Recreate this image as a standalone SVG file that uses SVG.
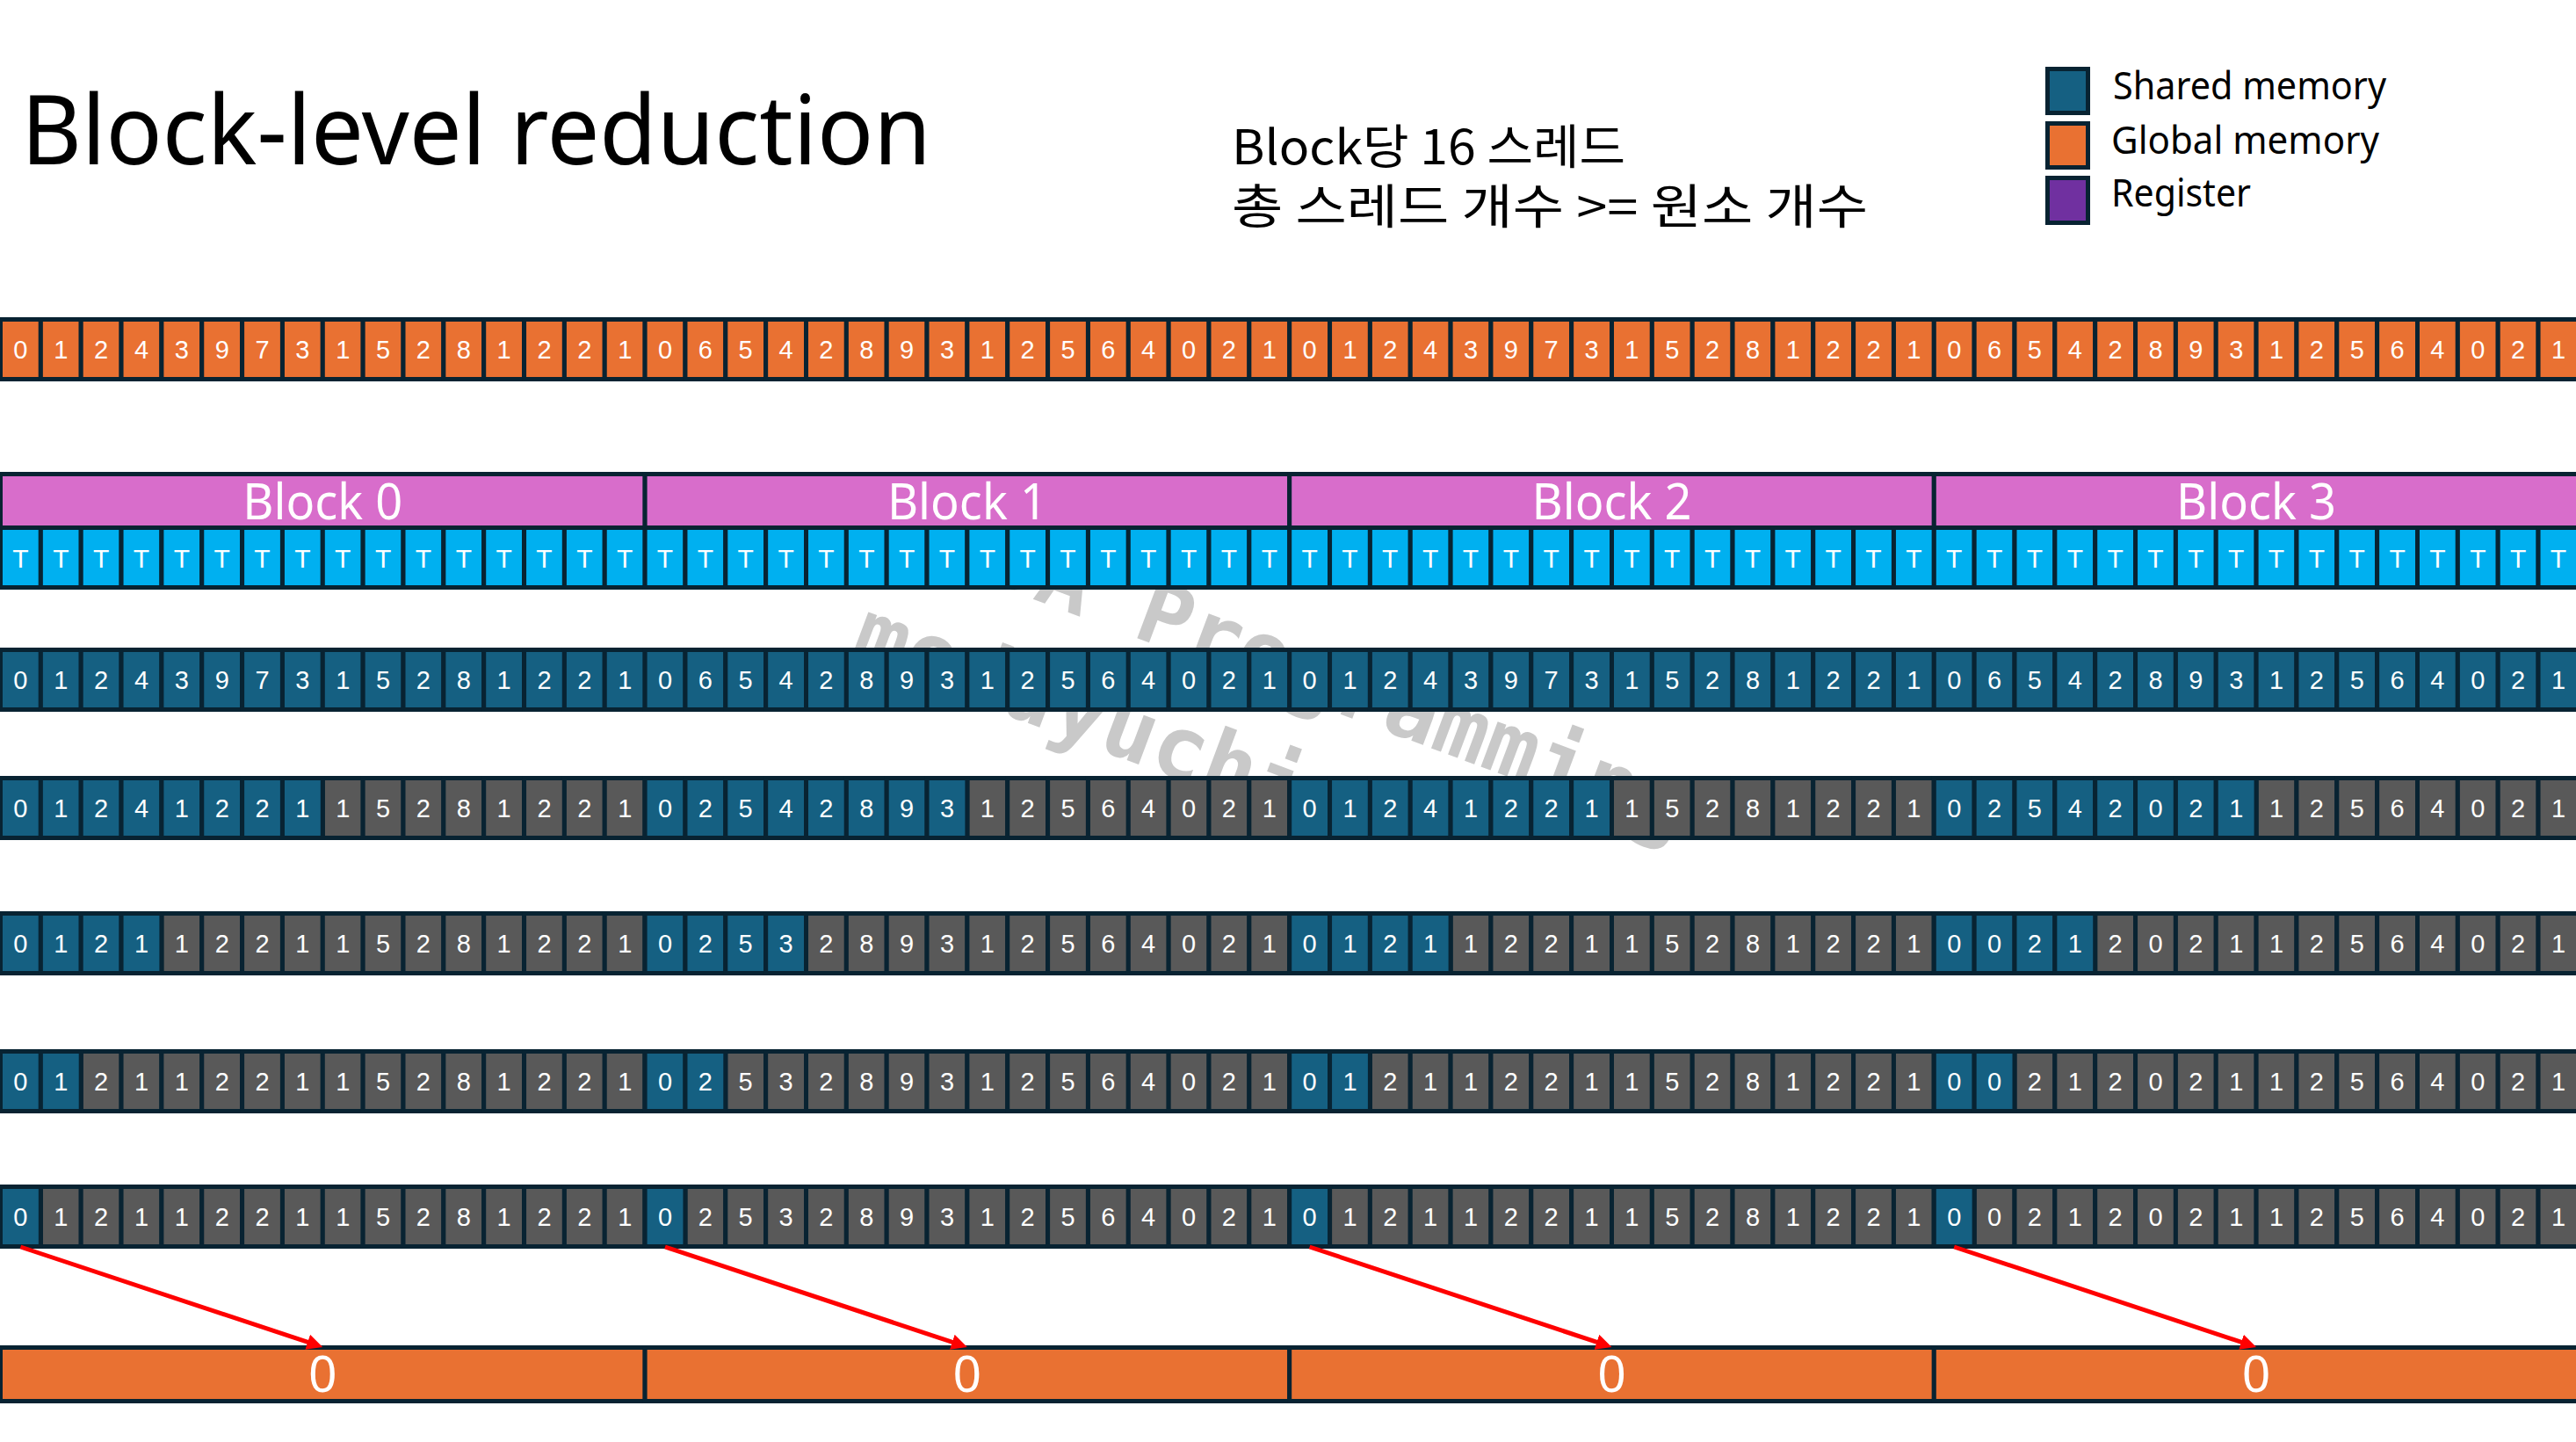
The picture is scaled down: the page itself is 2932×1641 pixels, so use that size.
<svg xmlns="http://www.w3.org/2000/svg" xmlns:xlink="http://www.w3.org/1999/xlink" width="2932" height="1641" viewBox="0 0 2932 1641">
<style>
.o{fill:#E97132}
.b{fill:#156082}
.g{fill:#595959}
.tb{fill:#00B0F0}
.pk{fill:#D86DCB}
.pu{fill:#7030A0}
.bd{stroke:#082332;stroke-width:5}
.num text{font-family:'Liberation Sans',Arial,sans-serif;font-size:29px;fill:#fff;text-anchor:middle}
.th text{font-family:'Liberation Sans Narrow','Liberation Sans',Arial,sans-serif;font-size:30px;fill:#fff;text-anchor:middle}
.lbl{font-family:'Noto Sans','Open Sans',sans-serif;fill:#fff;text-anchor:middle;font-size:57px}
.blk{font-family:'Noto Sans','Open Sans',sans-serif;fill:#000}
.kr{font-family:'Noto Sans CJK KR','Noto Sans',sans-serif;font-size:54px;fill:#000}
.arrow{stroke:#FF0000;stroke-width:5;fill:none;marker-end:url(#ah)}
.wm{font-family:'DejaVu Sans Mono','Liberation Mono',monospace;font-weight:700;font-size:100px;fill:#c9c9c9}
</style>
<defs>
<rect id="c" width="45.85" height="68" stroke="#082332" stroke-width="5"/>
<g id="c2"><use href="#c"/><use href="#c" x="45.85"/></g>
<g id="c4"><use href="#c2"/><use href="#c2" x="91.7"/></g>
<g id="c8"><use href="#c4"/><use href="#c4" x="183.4"/></g>
<g id="c16"><use href="#c8"/><use href="#c8" x="366.8"/></g>
<marker id="ah" markerUnits="userSpaceOnUse" markerWidth="18" markerHeight="18" refX="6" refY="9" orient="auto"><path d="M0,0L18,9L0,18z" fill="#FF0000"/></marker>
</defs>
<rect width="2932" height="1641" fill="#fff"/>

<g id="watermark" class="wm" transform="translate(1005,618) rotate(20.5)"><text>CUDA Programming</text><text x="8" y="134">moduyuchi</text></g>

<g id="title"><text class="blk" x="24" y="187" font-size="110" textLength="1036" lengthAdjust="spacingAndGlyphs">Block-level reduction</text></g>

<g id="note"><text class="kr"><tspan x="1402" y="187" textLength="448" lengthAdjust="spacingAndGlyphs">Block당 16 스레드</tspan><tspan x="1402" y="255" textLength="724" lengthAdjust="spacingAndGlyphs">총 스레드 개수 &gt;= 원소 개수</tspan></text></g>

<g id="legend">
<g id="legend-shared"><rect class="b bd" x="2330.5" y="78.5" width="46" height="50"/><text class="blk" x="2405" y="113" font-size="43" textLength="311" lengthAdjust="spacingAndGlyphs">Shared memory</text></g>
<g id="legend-global"><rect class="o bd" x="2330.5" y="140.5" width="46" height="50"/><text class="blk" x="2403" y="175" font-size="43" textLength="305" lengthAdjust="spacingAndGlyphs">Global memory</text></g>
<g id="legend-register"><rect class="pu bd" x="2330.5" y="202.5" width="46" height="51"/><text class="blk" x="2403" y="235" font-size="43" textLength="159" lengthAdjust="spacingAndGlyphs">Register</text></g>
</g>

<g id="global-input" transform="translate(0.5,363.5)">
<use href="#c16" class="o"/><use href="#c16" class="o" x="733.6"/><use href="#c16" class="o" x="1467.2"/><use href="#c16" class="o" x="2200.8"/>
<g class="num" transform="translate(0,44.4)">
<g><text x="22.9">0</text><text x="68.8">1</text><text x="114.6">2</text><text x="160.5">4</text><text x="206.3">3</text><text x="252.2">9</text><text x="298">7</text><text x="343.9">3</text><text x="389.7">1</text><text x="435.6">5</text><text x="481.4">2</text><text x="527.3">8</text><text x="573.1">1</text><text x="619">2</text><text x="664.8">2</text><text x="710.7">1</text></g>
<g transform="translate(733.6)"><text x="22.9">0</text><text x="68.8">6</text><text x="114.6">5</text><text x="160.5">4</text><text x="206.3">2</text><text x="252.2">8</text><text x="298">9</text><text x="343.9">3</text><text x="389.7">1</text><text x="435.6">2</text><text x="481.4">5</text><text x="527.3">6</text><text x="573.1">4</text><text x="619">0</text><text x="664.8">2</text><text x="710.7">1</text></g>
<g transform="translate(1467.2)"><text x="22.9">0</text><text x="68.8">1</text><text x="114.6">2</text><text x="160.5">4</text><text x="206.3">3</text><text x="252.2">9</text><text x="298">7</text><text x="343.9">3</text><text x="389.7">1</text><text x="435.6">5</text><text x="481.4">2</text><text x="527.3">8</text><text x="573.1">1</text><text x="619">2</text><text x="664.8">2</text><text x="710.7">1</text></g>
<g transform="translate(2200.8)"><text x="22.9">0</text><text x="68.8">6</text><text x="114.6">5</text><text x="160.5">4</text><text x="206.3">2</text><text x="252.2">8</text><text x="298">9</text><text x="343.9">3</text><text x="389.7">1</text><text x="435.6">2</text><text x="481.4">5</text><text x="527.3">6</text><text x="573.1">4</text><text x="619">0</text><text x="664.8">2</text><text x="710.7">1</text></g>
</g>
</g>

<g id="block-headers" transform="translate(0.5,539.5)">
<g id="block0"><rect class="pk bd" width="733.6" height="61"/><text class="lbl" x="366.8" y="51.5" textLength="182" lengthAdjust="spacingAndGlyphs">Block 0</text></g>
<g id="block1" transform="translate(733.6)"><rect class="pk bd" width="733.6" height="61"/><text class="lbl" x="366.8" y="51.5" textLength="182" lengthAdjust="spacingAndGlyphs">Block 1</text></g>
<g id="block2" transform="translate(1467.2)"><rect class="pk bd" width="733.6" height="61"/><text class="lbl" x="366.8" y="51.5" textLength="182" lengthAdjust="spacingAndGlyphs">Block 2</text></g>
<g id="block3" transform="translate(2200.8)"><rect class="pk bd" width="733.6" height="61"/><text class="lbl" x="366.8" y="51.5" textLength="182" lengthAdjust="spacingAndGlyphs">Block 3</text></g>
</g>

<g id="threads" transform="translate(0.5,600.5)">
<use href="#c16" class="tb"/><use href="#c16" class="tb" x="733.6"/><use href="#c16" class="tb" x="1467.2"/><use href="#c16" class="tb" x="2200.8"/>
<g class="th" transform="translate(0,45)">
<g><text x="22.9">T</text><text x="68.8">T</text><text x="114.6">T</text><text x="160.5">T</text><text x="206.3">T</text><text x="252.2">T</text><text x="298">T</text><text x="343.9">T</text><text x="389.7">T</text><text x="435.6">T</text><text x="481.4">T</text><text x="527.3">T</text><text x="573.1">T</text><text x="619">T</text><text x="664.8">T</text><text x="710.7">T</text></g>
<g transform="translate(733.6)"><text x="22.9">T</text><text x="68.8">T</text><text x="114.6">T</text><text x="160.5">T</text><text x="206.3">T</text><text x="252.2">T</text><text x="298">T</text><text x="343.9">T</text><text x="389.7">T</text><text x="435.6">T</text><text x="481.4">T</text><text x="527.3">T</text><text x="573.1">T</text><text x="619">T</text><text x="664.8">T</text><text x="710.7">T</text></g>
<g transform="translate(1467.2)"><text x="22.9">T</text><text x="68.8">T</text><text x="114.6">T</text><text x="160.5">T</text><text x="206.3">T</text><text x="252.2">T</text><text x="298">T</text><text x="343.9">T</text><text x="389.7">T</text><text x="435.6">T</text><text x="481.4">T</text><text x="527.3">T</text><text x="573.1">T</text><text x="619">T</text><text x="664.8">T</text><text x="710.7">T</text></g>
<g transform="translate(2200.8)"><text x="22.9">T</text><text x="68.8">T</text><text x="114.6">T</text><text x="160.5">T</text><text x="206.3">T</text><text x="252.2">T</text><text x="298">T</text><text x="343.9">T</text><text x="389.7">T</text><text x="435.6">T</text><text x="481.4">T</text><text x="527.3">T</text><text x="573.1">T</text><text x="619">T</text><text x="664.8">T</text><text x="710.7">T</text></g>
</g>
</g>

<g id="smem-load" transform="translate(0.5,739.5)">
<use href="#c16" class="b"/><use href="#c16" class="b" x="733.6"/><use href="#c16" class="b" x="1467.2"/><use href="#c16" class="b" x="2200.8"/>
<g class="num" transform="translate(0,44.4)">
<g><text x="22.9">0</text><text x="68.8">1</text><text x="114.6">2</text><text x="160.5">4</text><text x="206.3">3</text><text x="252.2">9</text><text x="298">7</text><text x="343.9">3</text><text x="389.7">1</text><text x="435.6">5</text><text x="481.4">2</text><text x="527.3">8</text><text x="573.1">1</text><text x="619">2</text><text x="664.8">2</text><text x="710.7">1</text></g>
<g transform="translate(733.6)"><text x="22.9">0</text><text x="68.8">6</text><text x="114.6">5</text><text x="160.5">4</text><text x="206.3">2</text><text x="252.2">8</text><text x="298">9</text><text x="343.9">3</text><text x="389.7">1</text><text x="435.6">2</text><text x="481.4">5</text><text x="527.3">6</text><text x="573.1">4</text><text x="619">0</text><text x="664.8">2</text><text x="710.7">1</text></g>
<g transform="translate(1467.2)"><text x="22.9">0</text><text x="68.8">1</text><text x="114.6">2</text><text x="160.5">4</text><text x="206.3">3</text><text x="252.2">9</text><text x="298">7</text><text x="343.9">3</text><text x="389.7">1</text><text x="435.6">5</text><text x="481.4">2</text><text x="527.3">8</text><text x="573.1">1</text><text x="619">2</text><text x="664.8">2</text><text x="710.7">1</text></g>
<g transform="translate(2200.8)"><text x="22.9">0</text><text x="68.8">6</text><text x="114.6">5</text><text x="160.5">4</text><text x="206.3">2</text><text x="252.2">8</text><text x="298">9</text><text x="343.9">3</text><text x="389.7">1</text><text x="435.6">2</text><text x="481.4">5</text><text x="527.3">6</text><text x="573.1">4</text><text x="619">0</text><text x="664.8">2</text><text x="710.7">1</text></g>
</g>
</g>

<g id="smem-stride8" transform="translate(0.5,885.5)">
<use href="#c16" class="g"/><use href="#c8" class="b"/><use href="#c16" class="g" x="733.6"/><use href="#c8" class="b" x="733.6"/><use href="#c16" class="g" x="1467.2"/><use href="#c8" class="b" x="1467.2"/><use href="#c16" class="g" x="2200.8"/><use href="#c8" class="b" x="2200.8"/>
<g class="num" transform="translate(0,44.4)">
<g><text x="22.9">0</text><text x="68.8">1</text><text x="114.6">2</text><text x="160.5">4</text><text x="206.3">1</text><text x="252.2">2</text><text x="298">2</text><text x="343.9">1</text><text x="389.7">1</text><text x="435.6">5</text><text x="481.4">2</text><text x="527.3">8</text><text x="573.1">1</text><text x="619">2</text><text x="664.8">2</text><text x="710.7">1</text></g>
<g transform="translate(733.6)"><text x="22.9">0</text><text x="68.8">2</text><text x="114.6">5</text><text x="160.5">4</text><text x="206.3">2</text><text x="252.2">8</text><text x="298">9</text><text x="343.9">3</text><text x="389.7">1</text><text x="435.6">2</text><text x="481.4">5</text><text x="527.3">6</text><text x="573.1">4</text><text x="619">0</text><text x="664.8">2</text><text x="710.7">1</text></g>
<g transform="translate(1467.2)"><text x="22.9">0</text><text x="68.8">1</text><text x="114.6">2</text><text x="160.5">4</text><text x="206.3">1</text><text x="252.2">2</text><text x="298">2</text><text x="343.9">1</text><text x="389.7">1</text><text x="435.6">5</text><text x="481.4">2</text><text x="527.3">8</text><text x="573.1">1</text><text x="619">2</text><text x="664.8">2</text><text x="710.7">1</text></g>
<g transform="translate(2200.8)"><text x="22.9">0</text><text x="68.8">2</text><text x="114.6">5</text><text x="160.5">4</text><text x="206.3">2</text><text x="252.2">0</text><text x="298">2</text><text x="343.9">1</text><text x="389.7">1</text><text x="435.6">2</text><text x="481.4">5</text><text x="527.3">6</text><text x="573.1">4</text><text x="619">0</text><text x="664.8">2</text><text x="710.7">1</text></g>
</g>
</g>

<g id="smem-stride4" transform="translate(0.5,1039.5)">
<use href="#c16" class="g"/><use href="#c4" class="b"/><use href="#c16" class="g" x="733.6"/><use href="#c4" class="b" x="733.6"/><use href="#c16" class="g" x="1467.2"/><use href="#c4" class="b" x="1467.2"/><use href="#c16" class="g" x="2200.8"/><use href="#c4" class="b" x="2200.8"/>
<g class="num" transform="translate(0,44.4)">
<g><text x="22.9">0</text><text x="68.8">1</text><text x="114.6">2</text><text x="160.5">1</text><text x="206.3">1</text><text x="252.2">2</text><text x="298">2</text><text x="343.9">1</text><text x="389.7">1</text><text x="435.6">5</text><text x="481.4">2</text><text x="527.3">8</text><text x="573.1">1</text><text x="619">2</text><text x="664.8">2</text><text x="710.7">1</text></g>
<g transform="translate(733.6)"><text x="22.9">0</text><text x="68.8">2</text><text x="114.6">5</text><text x="160.5">3</text><text x="206.3">2</text><text x="252.2">8</text><text x="298">9</text><text x="343.9">3</text><text x="389.7">1</text><text x="435.6">2</text><text x="481.4">5</text><text x="527.3">6</text><text x="573.1">4</text><text x="619">0</text><text x="664.8">2</text><text x="710.7">1</text></g>
<g transform="translate(1467.2)"><text x="22.9">0</text><text x="68.8">1</text><text x="114.6">2</text><text x="160.5">1</text><text x="206.3">1</text><text x="252.2">2</text><text x="298">2</text><text x="343.9">1</text><text x="389.7">1</text><text x="435.6">5</text><text x="481.4">2</text><text x="527.3">8</text><text x="573.1">1</text><text x="619">2</text><text x="664.8">2</text><text x="710.7">1</text></g>
<g transform="translate(2200.8)"><text x="22.9">0</text><text x="68.8">0</text><text x="114.6">2</text><text x="160.5">1</text><text x="206.3">2</text><text x="252.2">0</text><text x="298">2</text><text x="343.9">1</text><text x="389.7">1</text><text x="435.6">2</text><text x="481.4">5</text><text x="527.3">6</text><text x="573.1">4</text><text x="619">0</text><text x="664.8">2</text><text x="710.7">1</text></g>
</g>
</g>

<g id="smem-stride2" transform="translate(0.5,1196.5)">
<use href="#c16" class="g"/><use href="#c2" class="b"/><use href="#c16" class="g" x="733.6"/><use href="#c2" class="b" x="733.6"/><use href="#c16" class="g" x="1467.2"/><use href="#c2" class="b" x="1467.2"/><use href="#c16" class="g" x="2200.8"/><use href="#c2" class="b" x="2200.8"/>
<g class="num" transform="translate(0,44.4)">
<g><text x="22.9">0</text><text x="68.8">1</text><text x="114.6">2</text><text x="160.5">1</text><text x="206.3">1</text><text x="252.2">2</text><text x="298">2</text><text x="343.9">1</text><text x="389.7">1</text><text x="435.6">5</text><text x="481.4">2</text><text x="527.3">8</text><text x="573.1">1</text><text x="619">2</text><text x="664.8">2</text><text x="710.7">1</text></g>
<g transform="translate(733.6)"><text x="22.9">0</text><text x="68.8">2</text><text x="114.6">5</text><text x="160.5">3</text><text x="206.3">2</text><text x="252.2">8</text><text x="298">9</text><text x="343.9">3</text><text x="389.7">1</text><text x="435.6">2</text><text x="481.4">5</text><text x="527.3">6</text><text x="573.1">4</text><text x="619">0</text><text x="664.8">2</text><text x="710.7">1</text></g>
<g transform="translate(1467.2)"><text x="22.9">0</text><text x="68.8">1</text><text x="114.6">2</text><text x="160.5">1</text><text x="206.3">1</text><text x="252.2">2</text><text x="298">2</text><text x="343.9">1</text><text x="389.7">1</text><text x="435.6">5</text><text x="481.4">2</text><text x="527.3">8</text><text x="573.1">1</text><text x="619">2</text><text x="664.8">2</text><text x="710.7">1</text></g>
<g transform="translate(2200.8)"><text x="22.9">0</text><text x="68.8">0</text><text x="114.6">2</text><text x="160.5">1</text><text x="206.3">2</text><text x="252.2">0</text><text x="298">2</text><text x="343.9">1</text><text x="389.7">1</text><text x="435.6">2</text><text x="481.4">5</text><text x="527.3">6</text><text x="573.1">4</text><text x="619">0</text><text x="664.8">2</text><text x="710.7">1</text></g>
</g>
</g>

<g id="smem-stride1" transform="translate(0.5,1350.5)">
<use href="#c16" class="g"/><use href="#c" class="b"/><use href="#c16" class="g" x="733.6"/><use href="#c" class="b" x="733.6"/><use href="#c16" class="g" x="1467.2"/><use href="#c" class="b" x="1467.2"/><use href="#c16" class="g" x="2200.8"/><use href="#c" class="b" x="2200.8"/>
<g class="num" transform="translate(0,44.4)">
<g><text x="22.9">0</text><text x="68.8">1</text><text x="114.6">2</text><text x="160.5">1</text><text x="206.3">1</text><text x="252.2">2</text><text x="298">2</text><text x="343.9">1</text><text x="389.7">1</text><text x="435.6">5</text><text x="481.4">2</text><text x="527.3">8</text><text x="573.1">1</text><text x="619">2</text><text x="664.8">2</text><text x="710.7">1</text></g>
<g transform="translate(733.6)"><text x="22.9">0</text><text x="68.8">2</text><text x="114.6">5</text><text x="160.5">3</text><text x="206.3">2</text><text x="252.2">8</text><text x="298">9</text><text x="343.9">3</text><text x="389.7">1</text><text x="435.6">2</text><text x="481.4">5</text><text x="527.3">6</text><text x="573.1">4</text><text x="619">0</text><text x="664.8">2</text><text x="710.7">1</text></g>
<g transform="translate(1467.2)"><text x="22.9">0</text><text x="68.8">1</text><text x="114.6">2</text><text x="160.5">1</text><text x="206.3">1</text><text x="252.2">2</text><text x="298">2</text><text x="343.9">1</text><text x="389.7">1</text><text x="435.6">5</text><text x="481.4">2</text><text x="527.3">8</text><text x="573.1">1</text><text x="619">2</text><text x="664.8">2</text><text x="710.7">1</text></g>
<g transform="translate(2200.8)"><text x="22.9">0</text><text x="68.8">0</text><text x="114.6">2</text><text x="160.5">1</text><text x="206.3">2</text><text x="252.2">0</text><text x="298">2</text><text x="343.9">1</text><text x="389.7">1</text><text x="435.6">2</text><text x="481.4">5</text><text x="527.3">6</text><text x="573.1">4</text><text x="619">0</text><text x="664.8">2</text><text x="710.7">1</text></g>
</g>
</g>

<g id="result" transform="translate(0.5,1533.5)">
<g id="result0"><rect class="o bd" width="733.6" height="61"/><text class="lbl" x="366.8" y="50.5">0</text></g>
<g id="result1" transform="translate(733.6)"><rect class="o bd" width="733.6" height="61"/><text class="lbl" x="366.8" y="50.5">0</text></g>
<g id="result2" transform="translate(1467.2)"><rect class="o bd" width="733.6" height="61"/><text class="lbl" x="366.8" y="50.5">0</text></g>
<g id="result3" transform="translate(2200.8)"><rect class="o bd" width="733.6" height="61"/><text class="lbl" x="366.8" y="50.5">0</text></g>
</g>

<g id="connectors">
<line class="arrow" x1="23.4" y1="1419" x2="355.9" y2="1529.2"/>
<line class="arrow" x1="757" y1="1419" x2="1089.5" y2="1529.2"/>
<line class="arrow" x1="1490.6" y1="1419" x2="1823.1" y2="1529.2"/>
<line class="arrow" x1="2224.2" y1="1419" x2="2556.7" y2="1529.2"/>
</g>
</svg>
